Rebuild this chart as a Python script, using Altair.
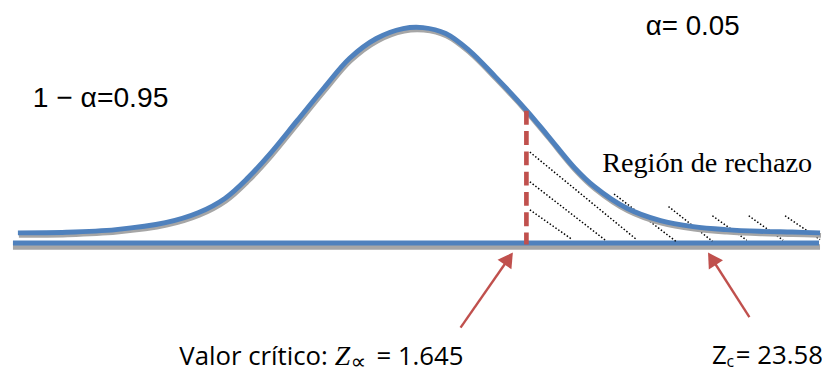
import math
import altair as alt
import pandas as pd

# ---- data (horizontal position, height above the axis line) ----
curve_x = [18, 67, 117, 167, 200, 227, 250, 273, 300, 327, 353, 380, 407, 427,
           450, 473, 500, 532, 553, 580, 600, 633, 667, 700, 733, 767, 800, 828]
curve_h = [10.2, 10.8, 13.5, 20.5, 30.5, 45.0, 65.5, 90.5, 123.5, 156.5, 186.5, 206.5, 216.5, 217.5,
           211.5, 195.0, 168.0, 133.5, 108.5, 76.0, 57.0, 35.0, 22.5, 16.5, 13.5, 11.8, 11.0, 10.2]

axis_x = [13, 827]
axis_h = [0, 0]

critical_x = [531.5]
critical_top = [133.5]
critical_bottom = [-1.5]

hatch_x1 = [535, 535, 535, 620, 675, 719.3, 756, 792.7]
hatch_h1 = [91.8, 61.8, 33.5, 49.5, 36.8, 27.5, 27.5, 27.5]
hatch_x2 = [643.3, 611, 577, 682.7, 719.3, 754, 790.7, 828]
hatch_h2 = [3.0, 3.0, 4.0, 1.5, 1.8, 2.8, 2.8, 3.5]

arrow_tail_x = [465, 756.7]
arrow_tail_h = [-85.5, -74.8]
arrow_head_x = [513.6, 718.9]
arrow_head_h = [-15.7, -15.9]

labels = ["α= 0.05", "1 − α=0.95", "Región de rechazo", "Valor crítico:", "Z", "∝",
          "= 1.645", "Z", "c", "= 23.58"]
label_x = [652, 33, 608, 181, 338, 354, 468, 719, 733.5, 743]
label_h = [210.5, 137.5, 71.5, -123, -123, -127.5, -123, -122.2, -125.5, -122.2]
label_align = ["left", "left", "left", "left", "left", "left", "right", "left", "left", "left"]
label_font = ["Liberation Sans", "Liberation Sans", "Liberation Serif", "Open Sans",
              "Liberation Serif", "DejaVu Sans", "Open Sans", "Open Sans", "Open Sans", "Open Sans"]
label_size = [28, 28.5, 28.5, 26, 28, 22, 26, 26, 16, 26]
label_style = ["normal", "normal", "normal", "normal", "italic", "normal",
               "normal", "normal", "normal", "normal"]

BLUE = "#4f81bd"
SHADOW = "#a6a6a6"
RED = "#c0504d"

W, H = 822, 366
xs = alt.Scale(domain=[8, 830], range=[0, W], nice=False, zero=False)
ys = alt.Scale(domain=[-130.5, 235.5], nice=False, zero=False)

curve_df = pd.DataFrame({"x": curve_x, "h": curve_h, "o": range(len(curve_x))})
axis_df = pd.DataFrame({"x": [axis_x[0]], "x2": [axis_x[1]], "h": [axis_h[0]]})
crit_df = pd.DataFrame({"x": critical_x, "h": critical_top, "h2": critical_bottom})
hatch_df = pd.DataFrame({"x": hatch_x1, "h": hatch_h1, "x2": hatch_x2, "h2": hatch_h2})
arrow_df = pd.DataFrame({"x": arrow_tail_x, "h": arrow_tail_h,
                         "x2": arrow_head_x, "h2": arrow_head_h})
arrow_df["angle"] = [math.degrees(math.atan2(hx - tx, hh - th)) % 360
                     for tx, th, hx, hh in zip(arrow_tail_x, arrow_tail_h, arrow_head_x, arrow_head_h)]

X = lambda f: alt.X(f, type="quantitative", scale=xs, axis=None)
Y = lambda f: alt.Y(f, type="quantitative", scale=ys, axis=None)

axis_shadow = alt.Chart(axis_df).transform_calculate(hs="datum.h - 4", x2s="datum.x2 + 1").mark_rule(
    color=SHADOW, strokeWidth=5.5).encode(x=X("x"), x2="x2s:Q", y=Y("hs:Q"))
axis_line = alt.Chart(axis_df).mark_rule(color=BLUE, strokeWidth=5).encode(
    x=X("x"), x2="x2:Q", y=Y("h"))

hatch = alt.Chart(hatch_df).mark_rule(color="black", strokeWidth=1.5, strokeDash=[1.5, 2]).encode(
    x=X("x"), y=Y("h"), x2="x2:Q", y2="h2:Q")

curve_shadow = alt.Chart(curve_df).transform_calculate(xs="datum.x + 1", hs="datum.h - 2.5").mark_line(
    color=SHADOW, strokeWidth=5, interpolate="catmull-rom").encode(
    x=X("xs:Q"), y=Y("hs:Q"), order="o:Q")
curve = alt.Chart(curve_df).mark_line(color=BLUE, strokeWidth=5, interpolate="catmull-rom").encode(
    x=X("x"), y=Y("h"), order="o:Q")

critical = alt.Chart(crit_df).mark_rule(color=RED, strokeWidth=4.7, strokeDash=[14, 6.5]).encode(
    x=X("x"), y=Y("h"), y2="h2:Q")

arrow_lines = alt.Chart(arrow_df).mark_rule(color=RED, strokeWidth=2.4).encode(
    x=X("x"), y=Y("h"), x2="x2:Q", y2="h2:Q")
arrow_heads = alt.Chart(arrow_df).mark_point(shape="triangle-up", filled=True, size=290,
                                             color=RED, opacity=1).encode(
    x=X("x2:Q"), y=Y("h2:Q"), angle=alt.Angle("angle:Q", scale=None))

text_layers = []
for t, x, h, a, f, s, st in zip(labels, label_x, label_h, label_align, label_font, label_size, label_style):
    d = pd.DataFrame({"t": [t], "x": [x], "h": [h]})
    text_layers.append(
        alt.Chart(d).mark_text(align=a, baseline="alphabetic", font=f, fontSize=s,
                               fontStyle=st, color="black").encode(
            x=X("x"), y=Y("h"), text="t:N"))

chart = alt.layer(axis_shadow, axis_line, hatch, curve_shadow, curve, critical,
                  arrow_lines, arrow_heads, *text_layers).properties(
    width=W, height=H, autosize=alt.AutoSizeParams(type="none"), padding=0,
    background="white").configure_view(stroke=None)

chart.save("out.html", embed_options={"renderer": "svg", "actions": False})
